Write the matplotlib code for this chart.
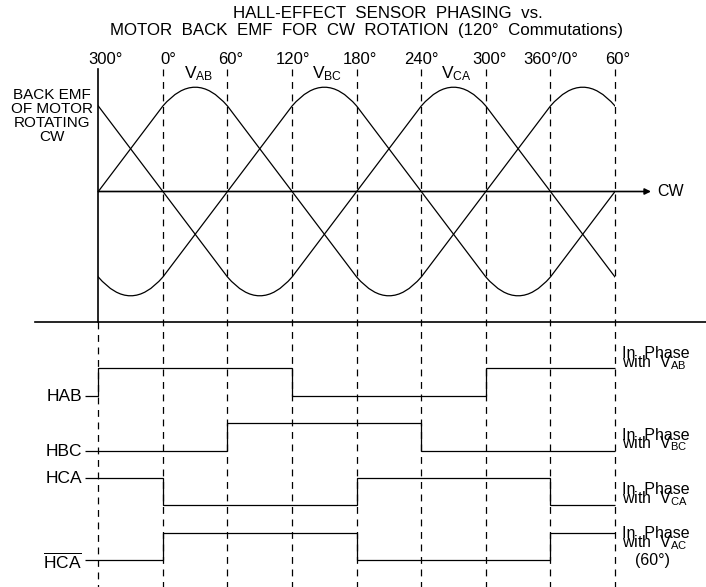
#!/usr/bin/env python3
"""
Hall-effect sensor phasing vs. motor back EMF (CW rotation, 120 deg commutation).
Draws the three line-to-line back EMF waveforms and the four hall sensor logic traces.
"""
import matplotlib
matplotlib.use("Agg")
import matplotlib.pyplot as plt
from matplotlib.path import Path
from matplotlib.patches import PathPatch

plt.rcParams['font.family'] = ['Liberation Sans', 'DejaVu Sans']
plt.rcParams['mathtext.fontset'] = 'custom'
plt.rcParams['mathtext.rm'] = 'Liberation Sans'
plt.rcParams['mathtext.it'] = 'Liberation Sans:italic'
plt.rcParams['mathtext.bf'] = 'Liberation Sans:bold'

# Data
ANGLE_TICKS = [-60, 0, 60, 120, 180, 240, 300, 360, 420]
ANGLE_LABELS = ["300°", "0°", "60°", "120°", "180°", "240°", "300°", "360°/0°", "60°"]

EMF_NAMES = [r"V$_{\mathrm{AB}}$", r"V$_{\mathrm{BC}}$", r"V$_{\mathrm{CA}}$"]
EMF_ARC_START = [0, 120, 240]      # angle where the positive crest begins
EMF_LIN_LEVEL = 1.0                # level where the straight flank meets the crest
EMF_PEAK_LEVEL = 1.22              # crest top

HALL_NAMES = ["HAB", "HBC", "HCA", r"$\overline{\mathrm{HCA}}$"]
HALL_EDGES = [
    [-72, -60, 120, 300, 420],
    [-72, 60, 240, 420],
    [-72, 0, 180, 360, 420],
    [-72, 0, 180, 360, 420],
]
HALL_STATES = [
    [0, 1, 0, 1],
    [0, 1, 0],
    [1, 0, 1, 0],
    [0, 1, 0, 1],
]
HALL_NOTES = [
    ["In  Phase", r"with  V$_{\mathrm{AB}}$"],
    ["In  Phase", r"with  V$_{\mathrm{BC}}$"],
    ["In  Phase", r"with  V$_{\mathrm{CA}}$"],
    ["In  Phase", r"with  V$_{\mathrm{AC}}$", "(60°)"],
]

# Layout (pixels of the 706x587 canvas)
W, H = 706, 587
X0_PX = 98.3           # pixel x of the first 300 deg mark (-60)
PX_PER_DEG = 1.0765
X_LEFT = -60 - X0_PX / PX_PER_DEG
X_RIGHT = X_LEFT + W / PX_PER_DEG
ZERO_PX = 191.5
UNIT_PX = 85.5
HALL_LEVELS_PX = [(395.7, 368.3), (450.7, 423.3), (505.0, 477.7), (560.0, 532.7)]
NOTE_BASE_PX = [358, 439.5, 494.5, 538.5]
LW = 0.9

fig = plt.figure(figsize=(W / 100, H / 100), dpi=100)


def band(top, bottom, left=0, right=W):
    ax = fig.add_axes([left / W, 1 - bottom / H, (right - left) / W, (bottom - top) / H])
    ax.set_axis_off()
    ax.patch.set_alpha(0)
    return ax


ax_deg = band(0, H)
ax_deg.set_xlim(X_LEFT, X_RIGHT)
ax_deg.set_ylim(H, 0)
ax_px = band(0, H)
ax_px.set_xlim(0, W)
ax_px.set_ylim(H, 0)

# Titles
ax_px.text(388, 14, "HALL-EFFECT  SENSOR  PHASING  vs.", ha='center', va='center', fontsize=12.2)
ax_px.text(367, 31, "MOTOR  BACK  EMF  FOR  CW  ROTATION  (120°  Commutations)",
           ha='center', va='center', fontsize=12.2)

# Angle labels and dashed guides
label_dx = [7, 5, 3, 1, 3, 0, 4, 0, 3]
for ang, lab, dx in zip(ANGLE_TICKS, ANGLE_LABELS, label_dx):
    ax_deg.text(ang + dx / PX_PER_DEG, 59, lab, ha='center', va='center', fontsize=12)
    top = 322 if ang == -60 else 69
    ax_deg.plot([ang, ang], [top, H], color='black', lw=LW, ls=(0, (5.5, 4.5)))

# Vertical axis, CW axis, divider
ax_deg.plot([-60, -60], [69, 322], color='black', lw=1.2)
ax_px.plot([35, W], [322, 322], color='black', lw=1.2)
ax_px.annotate("", xy=(651, ZERO_PX), xytext=(X0_PX, ZERO_PX),
               arrowprops=dict(arrowstyle='-|>', color='black', lw=1.2,
                               mutation_scale=9, shrinkA=0, shrinkB=0))
ax_px.text(657, ZERO_PX, "CW", ha='left', va='center', fontsize=11.5)

ax_px.text(52, 116, "BACK EMF\nOF MOTOR\nROTATING\nCW", ha='center', va='center',
           fontsize=11, linespacing=0.97)

# Back EMF waveforms
ax_emf = band(ZERO_PX - 1.35 * UNIT_PX, ZERO_PX + 1.35 * UNIT_PX, X0_PX, X0_PX + 480 * PX_PER_DEG)
ax_emf.set_xlim(-60, 420)
ax_emf.set_ylim(-1.35, 1.35)


def emf_path(start):
    ctrl = 2 * EMF_PEAK_LEVEL - EMF_LIN_LEVEL
    verts = [(start - 360, EMF_LIN_LEVEL)]
    codes = [Path.MOVETO]
    for c in (start - 360, start, start + 360):
        verts += [(c + 30, ctrl), (c + 60, EMF_LIN_LEVEL), (c + 180, -EMF_LIN_LEVEL),
                  (c + 210, -ctrl), (c + 240, -EMF_LIN_LEVEL), (c + 360, EMF_LIN_LEVEL)]
        codes += [Path.CURVE3, Path.CURVE3, Path.LINETO,
                  Path.CURVE3, Path.CURVE3, Path.LINETO]
    return Path(verts, codes)


for name, start in zip(EMF_NAMES, EMF_ARC_START):
    ax_emf.add_patch(PathPatch(emf_path(start), fill=False, ec='black', lw=LW))
    ax_deg.text(start + 30 + 3 / PX_PER_DEG, 74, name, ha='center', va='center', fontsize=12.5)

# Hall sensor traces
for name, edges, states, (low, high), notes, base in zip(
        HALL_NAMES, HALL_EDGES, HALL_STATES, HALL_LEVELS_PX, HALL_NOTES, NOTE_BASE_PX):
    amp = low - high
    ax_h = band(high - amp / 2, low + amp / 2)
    ax_h.set_xlim(X_LEFT, X_RIGHT)
    ax_h.set_ylim(-0.5, 1.5)
    ax_h.stairs(states, edges, baseline=None, color='black', lw=LW)
    label_y = high if states[0] else low
    ax_px.text(82, label_y + 1, name, ha='right', va='center', fontsize=12.5)
    ax_px.text(622, base, notes[0], ha='left', va='baseline', fontsize=11.5)
    ax_px.text(622, base + 9, notes[1], ha='left', va='baseline', fontsize=11.5)
    if len(notes) > 2:
        ax_px.text(652, base + 27, notes[2], ha='center', va='baseline', fontsize=11.5)

fig.savefig("out.png", dpi=100)
